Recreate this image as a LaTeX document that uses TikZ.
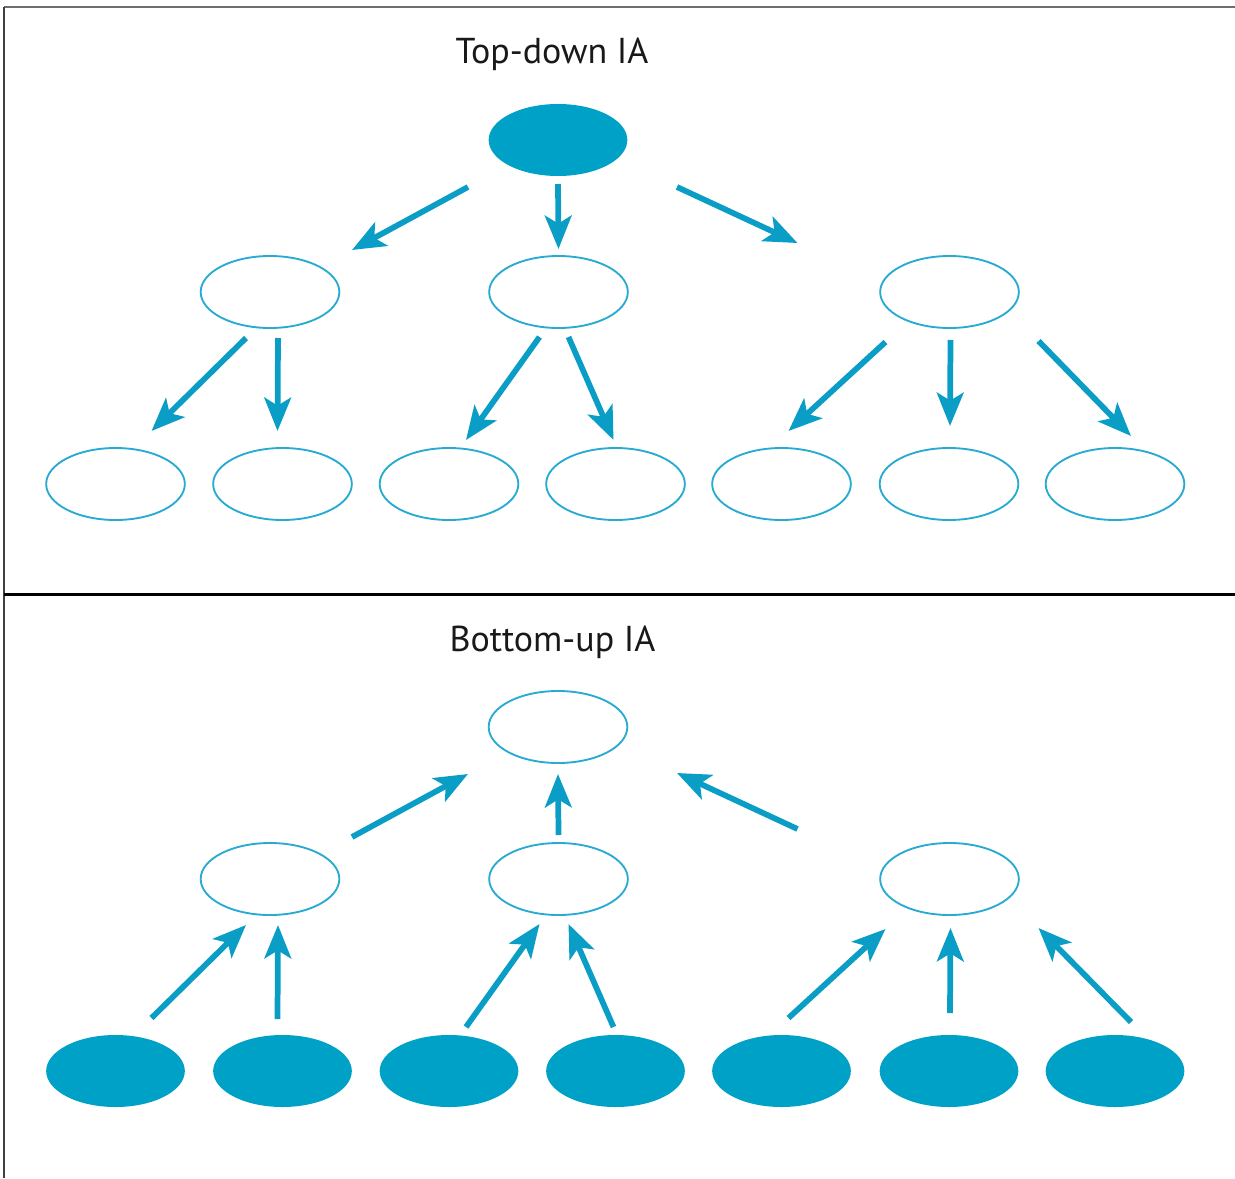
\documentclass[tikz,border=0pt]{standalone}
\usepackage{fontspec}
\setmainfont{PT Sans}
\usetikzlibrary{shapes.geometric,arrows.meta}
\definecolor{iafill}{RGB}{0,161,198}
\definecolor{iaedge}{RGB}{40,170,210}
\definecolor{iaarrow}{RGB}{10,158,198}
\definecolor{framegray}{RGB}{110,110,110}
\tikzset{
  blob/.style={ellipse, inner sep=0pt, minimum width=104pt, minimum height=54pt},
  solid node/.style={blob, fill=iafill, draw=none},
  hollow node/.style={blob, draw=iaedge, line width=1.4pt, fill=white},
  link/.style={draw=iaarrow, line width=4.3pt,
    -{Stealth[length=25pt, width=20pt, inset=6pt]}},
  heading/.style={font=\fontsize{27}{32}\selectfont, text=black!90, inner sep=0pt},
}
\begin{document}
\begin{tikzpicture}[x=0.75pt, y=-0.75pt]
\useasboundingbox (0,0) rectangle (1235,1178);

% frame
\draw[framegray, line width=1.6pt] (4,7) -- (1235,7);
\draw[black!75, line width=1.6pt] (4,7) -- (4,1178);
\draw[black, line width=1.6pt] (4,594.5) -- (1235,594.5);

% ---------- top-down hierarchy ----------
\node[heading] (titleA) at (552,54) {Top-down IA};
\node[solid node]  (tT)  at (558,140) {};
\node[hollow node] (tL)  at (270,292) {};
\node[hollow node] (tC)  at (558.5,292) {};
\node[hollow node] (tR)  at (949.5,292) {};
\node[hollow node] (tB1) at (115.5,484) {};
\node[hollow node] (tB2) at (282.5,484) {};
\node[hollow node] (tB3) at (449,484) {};
\node[hollow node] (tB4) at (615.5,484) {};
\node[hollow node] (tB5) at (781.5,484) {};
\node[hollow node] (tB6) at (949,484) {};
\node[hollow node] (tB7) at (1115,484) {};

\draw[link] ([shift={(-90,47)}]tT.center) -- ([shift={(82,-42)}]tL.center);
\draw[link] ([shift={(0,44)}]tT.center) -- ([shift={(0,-43)}]tC.center);
\draw[link] ([shift={(119,47)}]tT.center) -- ([shift={(-152,-49)}]tR.center);
\draw[link] ([shift={(-24,46)}]tL.center) -- ([shift={(36,-53)}]tB1.center);
\draw[link] ([shift={(8,46)}]tL.center) -- ([shift={(-5,-53)}]tB2.center);
\draw[link] ([shift={(-19,45)}]tC.center) -- ([shift={(17,-44)}]tB3.center);
\draw[link] ([shift={(10,45)}]tC.center) -- ([shift={(-2,-44)}]tB4.center);
\draw[link] ([shift={(-64,50)}]tR.center) -- ([shift={(7,-53)}]tB5.center);
\draw[link] ([shift={(1,48)}]tR.center) -- ([shift={(1,-58)}]tB6.center);
\draw[link] ([shift={(89,49)}]tR.center) -- ([shift={(16,-48)}]tB7.center);

% ---------- bottom-up hierarchy ----------
\node[heading] (titleB) at (552.5,642) {Bottom-up IA};
\node[hollow node] (bT)  at (558,727) {};
\node[hollow node] (bL)  at (270,879) {};
\node[hollow node] (bC)  at (558.5,879) {};
\node[hollow node] (bR)  at (949.5,879) {};
\node[solid node]  (bB1) at (115.5,1071) {};
\node[solid node]  (bB2) at (282.5,1071) {};
\node[solid node]  (bB3) at (449,1071) {};
\node[solid node]  (bB4) at (615.5,1071) {};
\node[solid node]  (bB5) at (781.5,1071) {};
\node[solid node]  (bB6) at (949,1071) {};
\node[solid node]  (bB7) at (1115,1071) {};

\draw[link] ([shift={(82,-42)}]bL.center) -- ([shift={(-90,47)}]bT.center);
\draw[link] ([shift={(0,-44)}]bC.center) -- ([shift={(0,47)}]bT.center);
\draw[link] ([shift={(-152,-50)}]bR.center) -- ([shift={(119,46)}]bT.center);
\draw[link] ([shift={(36,-53)}]bB1.center) -- ([shift={(-24,46)}]bL.center);
\draw[link] ([shift={(-5,-52)}]bB2.center) -- ([shift={(8,46)}]bL.center);
\draw[link] ([shift={(17,-44)}]bB3.center) -- ([shift={(-19,45)}]bC.center);
\draw[link] ([shift={(-2,-44)}]bB4.center) -- ([shift={(10,45)}]bC.center);
\draw[link] ([shift={(7,-53)}]bB5.center) -- ([shift={(-64,50)}]bR.center);
\draw[link] ([shift={(1,-58)}]bB6.center) -- ([shift={(1,49)}]bR.center);
\draw[link] ([shift={(16,-49)}]bB7.center) -- ([shift={(89,49)}]bR.center);
\end{tikzpicture}
\end{document}
